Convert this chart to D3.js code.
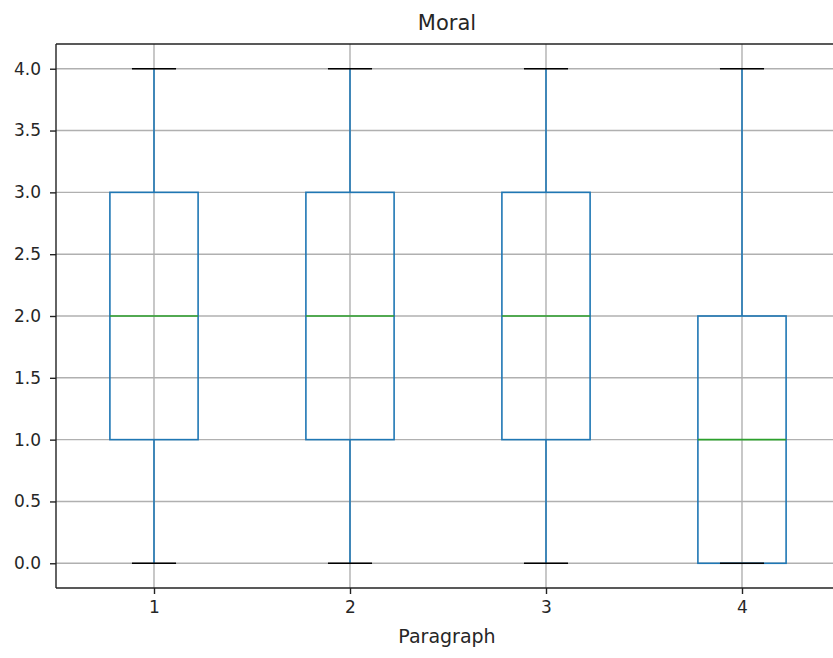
<!DOCTYPE html>
<html>
<head>
<meta charset="utf-8">
<script src="https://cdn.jsdelivr.net/npm/d3@7"></script>
<style>
html,body{margin:0;padding:0;background:#fff;}
svg{display:block;font-family:"DejaVu Sans",sans-serif;}
</style>
</head>
<body>
<svg id="chart" width="833" height="658"></svg>
<script>
const categories = ["1", "2", "3", "4"];
const whiskerLow = [0, 0, 0, 0];
const q1 = [1, 1, 1, 0];
const medians = [2, 2, 2, 1];
const q3 = [3, 3, 3, 2];
const whiskerHigh = [4, 4, 4, 4];
const yTicks = [0.0, 0.5, 1.0, 1.5, 2.0, 2.5, 3.0, 3.5, 4.0];

(function () {
const svg = d3.select("#chart");
const pL = 56, pR = 840, pT = 44, pB = 588;
const txt = "#262626";

const x = d3.scaleLinear().domain([0.5, 4.5]).range([pL, pR]);
const y = d3.scaleLinear().domain([-0.2, 4.2]).range([pB, pT]);
const pos = categories.map((c, i) => i + 1);
const boxHalf = 0.225, capHalf = 0.1125;

// grid
const grid = svg.append("g");
grid.selectAll(".gy").data(yTicks).enter().append("line")
  .attr("x1", pL).attr("x2", pR)
  .attr("y1", d => y(d)).attr("y2", d => y(d))
  .attr("stroke", "#b0b0b0").attr("stroke-width", 1.4);
grid.selectAll(".gx").data(pos).enter().append("line")
  .attr("y1", pT).attr("y2", pB)
  .attr("x1", d => x(d)).attr("x2", d => x(d))
  .attr("stroke", "#b0b0b0").attr("stroke-width", 1.4);

// boxes
const g = svg.append("g");
categories.forEach((c, i) => {
  const p = pos[i];
  const blue = "#1f77b4";
  g.append("line").attr("x1", x(p)).attr("x2", x(p))
    .attr("y1", y(q3[i])).attr("y2", y(whiskerHigh[i]))
    .attr("stroke", blue).attr("stroke-width", 1.6);
  g.append("line").attr("x1", x(p)).attr("x2", x(p))
    .attr("y1", y(q1[i])).attr("y2", y(whiskerLow[i]))
    .attr("stroke", blue).attr("stroke-width", 1.6);
  g.append("rect").attr("x", x(p - boxHalf)).attr("width", x(p + boxHalf) - x(p - boxHalf))
    .attr("y", y(q3[i])).attr("height", y(q1[i]) - y(q3[i]))
    .attr("fill", "none").attr("stroke", blue).attr("stroke-width", 1.6);
  g.append("line").attr("x1", x(p - boxHalf)).attr("x2", x(p + boxHalf))
    .attr("y1", y(medians[i])).attr("y2", y(medians[i]))
    .attr("stroke", "#2ca02c").attr("stroke-width", 1.6);
  [whiskerLow[i], whiskerHigh[i]].forEach(v => {
    g.append("line").attr("x1", x(p - capHalf)).attr("x2", x(p + capHalf))
      .attr("y1", y(v)).attr("y2", y(v))
      .attr("stroke", "#000").attr("stroke-width", 1.6);
  });
});

// axes
const yAxis = d3.axisLeft(y).tickValues(yTicks).tickFormat(d3.format(".1f")).tickSize(6).tickPadding(9);
const xAxis = d3.axisBottom(x).tickValues(pos).tickFormat((d, i) => categories[i]).tickSize(6).tickPadding(7);
const ya = svg.append("g").attr("transform", `translate(${pL},0)`).call(yAxis);
const xa = svg.append("g").attr("transform", `translate(0,${pB})`).call(xAxis);
[ya, xa].forEach(a => {
  a.select(".domain").remove();
  a.selectAll("line").attr("stroke", "#222").attr("stroke-width", 1.4);
  a.selectAll("text").attr("fill", txt).style("font-size", "17px").style("font-family", "DejaVu Sans");
});

// spines
const sp = [[pL, pT, pL, pB], [pL, pB, pR, pB], [pL, pT, pR, pT], [pR, pT, pR, pB]];
sp.forEach(s => svg.append("line").attr("x1", s[0]).attr("y1", s[1]).attr("x2", s[2]).attr("y2", s[3])
  .attr("stroke", "#222").attr("stroke-width", 1.4));

svg.append("text").attr("x", (pL + pR) / 2 - 1).attr("y", 30).attr("text-anchor", "middle")
  .style("font-size", "21px").attr("fill", txt).text("Moral");
svg.append("text").attr("x", (pL + pR) / 2 - 1).attr("y", 643).attr("text-anchor", "middle")
  .style("font-size", "19px").attr("fill", txt).text("Paragraph");
})();
</script>
</body>
</html>
